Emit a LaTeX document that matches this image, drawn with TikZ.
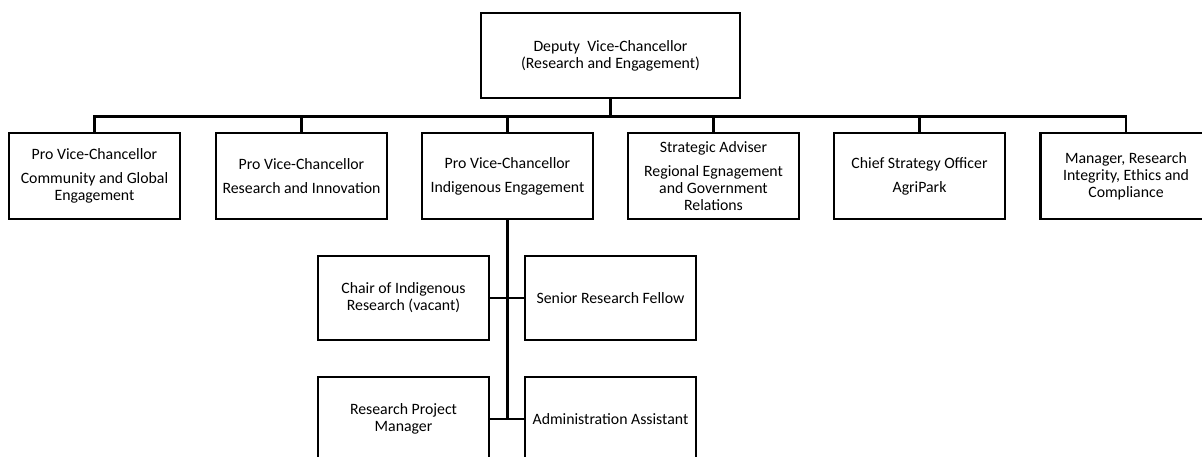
\documentclass[tikz,border=0pt]{standalone}
\usepackage{fontspec}
\setmainfont{Carlito}
\usepackage{tikz}

\begin{document}
\begin{tikzpicture}[x=1pt, y=-1pt, line width=2.8pt,
    box/.style={draw, rectangle, minimum width=171pt, minimum height=86pt, inner sep=0pt,
      align=center, font=\fontsize{15.8}{17}\selectfont}]
  \useasboundingbox (0, 0) rectangle (1202, 457);
  \node [box, minimum width=259pt, minimum height=85pt] (dvc) at (610.5, 55.5) {Deputy\ \ Vice-Chancellor\\(Research and Engagement)};
  \node [box] (cge) at (94.5, 176) {Pro Vice-Chancellor\\[7pt]Community and Global\\Engagement};
  \node [box] (ri) at (301.5, 176) {Pro Vice-Chancellor\\[7pt]Research and Innovation};
  \node [box] (ie) at (507.5, 176) {Pro Vice-Chancellor\\[7pt]Indigenous Engagement};
  \node [box] (rge) at (713.5, 176) {Strategic Adviser\\[7pt]Regional Egnagement\\and Government\\Relations};
  \node [box] (cso) at (919.5, 176) {Chief Strategy Officer\\[7pt]AgriPark};
  \node [box] (mric) at (1126, 176) {Manager, Research\\Integrity, Ethics and\\Compliance};
  \node [box, minimum height=84pt] (chair) at (403.5, 298) {Chair of Indigenous\\Research (vacant)};
  \node [box, minimum height=84pt] (srf) at (610.5, 298) {Senior Research Fellow};
  \node [box, minimum height=84pt] (rpm) at (403.5, 419) {Research Project\\Manager};
  \node [box, minimum height=84pt] (aa) at (610.5, 419) {Administration Assistant};

  \coordinate (bus) at (0, 116.5);
  \draw (dvc.south) -- (dvc.south |- bus);
  \draw (cge.north) |- (mric.north |- bus) -- (mric.north);
  \draw (ri.north) -- (ri.north |- bus);
  \draw (ie.north) -- (ie.north |- bus);
  \draw (rge.north) -- (rge.north |- bus);
  \draw (cso.north) -- (cso.north |- bus);

  \draw (ie.south) -- (ie.south |- aa.west);
  \draw (chair.east) -- (srf.west);
  \draw (rpm.east) -- (aa.west);
\end{tikzpicture}
\end{document}
